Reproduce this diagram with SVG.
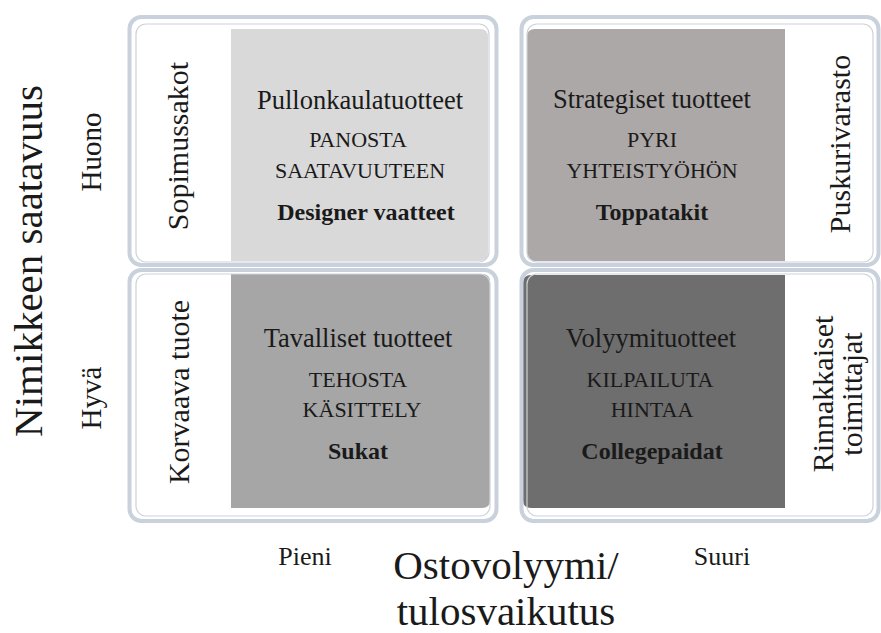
<svg xmlns="http://www.w3.org/2000/svg" width="881" height="633" viewBox="0 0 881 633">
<style>
text{font-family:'Liberation Serif','DejaVu Serif',serif;fill:#1a1a1a}
.frame{fill:none;stroke:#c8d1dc;stroke-width:4}
.inner{fill:none;stroke:#ccd3db;stroke-width:1.2}
.t{font-size:26.5px;text-anchor:middle}
.c{font-size:22px;text-anchor:middle}
.b{font-size:24px;font-weight:bold;text-anchor:middle}
.side{font-size:30px;text-anchor:middle}
.lvl{font-size:29px;text-anchor:middle}
.axis{font-size:41px;text-anchor:middle}
.sz{font-size:26px;text-anchor:middle}
</style>
<rect width="881" height="633" fill="#fff"/>

<g id="q-top-left">
<path d="M231 29H480Q488 29 488 37V253Q488 261 480 261H231Z" fill="#d9d9d9"/>
<rect class="inner" x="136" y="24" width="353" height="238" rx="10"/>
<rect class="frame" x="129.5" y="17" width="367" height="248" rx="12"/>
<text class="t" x="360" y="109">Pullonkaulatuotteet</text>
<text class="c" x="358" y="147">PANOSTA</text>
<text class="c" x="360" y="178">SAATAVUUTEEN</text>
<text class="b" x="366" y="220">Designer vaatteet</text>
<text class="side" transform="rotate(-90 188 146)" x="188" y="146">Sopimussakot</text>
</g>

<g id="q-top-right">
<path d="M535 29H785V261H535Q527 261 527 253V37Q527 29 535 29Z" fill="#aca8a7"/>
<rect class="inner" x="527" y="24" width="346" height="238" rx="10"/>
<rect class="frame" x="521.5" y="17" width="357" height="248" rx="12"/>
<text class="t" x="652" y="108">Strategiset tuotteet</text>
<text class="c" x="652" y="147">PYRI</text>
<text class="c" x="652" y="178">YHTEISTYÖHÖN</text>
<text class="b" x="652" y="220">Toppatakit</text>
<text class="side" transform="rotate(-90 850 144)" x="850" y="144">Puskurivarasto</text>
</g>

<g id="q-bottom-left">
<path d="M231 274H482Q490 274 490 282V500Q490 508 482 508H231Z" fill="#a6a6a6"/>
<rect class="inner" x="136" y="274" width="354" height="242" rx="10"/>
<rect class="frame" x="129.5" y="270" width="367" height="251" rx="12"/>
<text class="t" x="358" y="347">Tavalliset tuotteet</text>
<text class="c" x="358" y="387">TEHOSTA</text>
<text class="c" x="362" y="417">KÄSITTELY</text>
<text class="b" x="358" y="459">Sukat</text>
<text class="side" transform="rotate(-90 189 392)" x="189" y="392">Korvaava tuote</text>
</g>

<g id="q-bottom-right">
<path d="M531 275H785V508H531Q523 508 523 500V283Q523 275 531 275Z" fill="#6e6e6e"/>
<rect class="inner" x="527" y="274" width="346" height="242" rx="10"/>
<rect class="frame" x="521.5" y="270" width="357" height="251" rx="12"/>
<text class="t" x="651" y="347">Volyymituotteet</text>
<text class="c" x="650" y="387">KILPAILUTA</text>
<text class="c" x="652" y="417">HINTAA</text>
<text class="b" x="652" y="459">Collegepaidat</text>
<text class="side" transform="rotate(-90 833 394)" x="833" y="394">Rinnakkaiset</text>
<text class="side" transform="rotate(-90 862 394)" x="862" y="394">toimittajat</text>
</g>

<g id="axis-y">
<text class="axis" transform="rotate(-90 42 261)" x="42" y="261">Nimikkeen saatavuus</text>
<text class="lvl" transform="rotate(-90 101 152)" x="101" y="152">Huono</text>
<text class="lvl" transform="rotate(-90 101 398)" x="101" y="398">Hyvä</text>
</g>

<g id="axis-x">
<text class="sz" x="305" y="565">Pieni</text>
<text class="sz" x="722" y="565">Suuri</text>
<text class="axis" x="506" y="579">Ostovolyymi/</text>
<text class="axis" x="506" y="625">tulosvaikutus</text>
</g>

<g id="connectors"></g>
</svg>
